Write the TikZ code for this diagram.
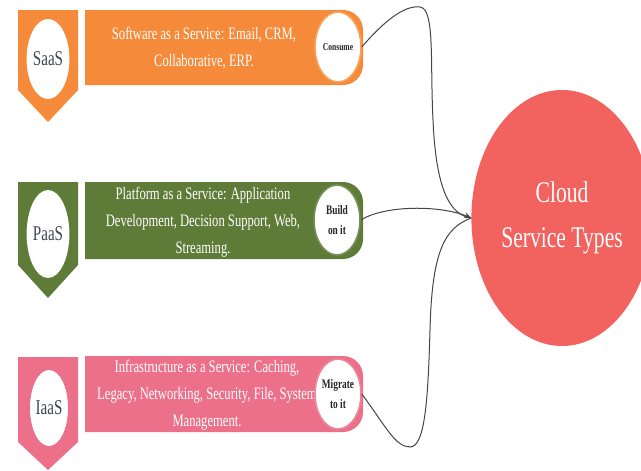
\documentclass[tikz,border=0pt]{standalone}
\usepackage{fontspec}
\setmainfont{Liberation Serif}[FakeStretch=0.72]
\usepackage{tikz}
\usetikzlibrary{shapes.geometric,arrows.meta}

\definecolor{saasc}{HTML}{F58A3A}
\definecolor{saasring}{HTML}{F7A35C}
\definecolor{paasc}{HTML}{5E7B38}
\definecolor{iaasc}{HTML}{EC7089}
\definecolor{cloudc}{HTML}{F2625F}
\definecolor{badgetxt}{HTML}{3F4656}
\definecolor{linkc}{HTML}{454545}

\tikzset{
  badge/.style={ellipse, fill=white, text=badgetxt, inner sep=0pt, font=\fontsize{21}{21}\selectfont},
  bartext/.style={text=white, align=center, inner sep=0pt, font=\fontsize{17.5}{27}\selectfont},
  act/.style={ellipse, fill=white, line width=1.6pt, minimum width=46pt, minimum height=70pt, inner sep=0pt, align=center, text=black!85},
  link/.style={draw=linkc, line width=1pt}
}

\begin{document}
\begin{tikzpicture}[x=1pt, y=-1pt]
\useasboundingbox (0,0) rectangle (641,471);

% SaaS
\fill[saasc] (18,10) -- (78,10) -- (78,90) -- (48,122) -- (18,90) -- cycle;
\node[badge, minimum width=38pt, minimum height=80pt] (saas) at (48,59) {SaaS};
\fill[saasc] (85,10) [rounded corners=20pt] -- (363,10) -- (363,85) [sharp corners] -- (85,85) -- cycle;
\node[bartext] (saastxt) at (204,48) {Software as a Service: Email, CRM,\\ Collaborative, ERP.};
\node[act, draw=saasring, font=\bfseries\fontsize{10.5}{10.5}\selectfont] (consume) at (338,47) {Consume};

% PaaS
\fill[paasc] (18,182) -- (78,182) -- (78,265) -- (48,298) -- (18,265) -- cycle;
\node[badge, minimum width=42pt, minimum height=88pt] (paas) at (48,234) {PaaS};
\fill[paasc] (85,182) [rounded corners=20pt] -- (363,182) -- (363,259) [sharp corners] -- (85,259) -- cycle;
\node[bartext] (paastxt) at (203,222) {Platform as a Service: Application\\ Development, Decision Support, Web,\\ Streaming.};
\node[act, draw=paasc!85!white, font=\bfseries\fontsize{13}{20}\selectfont] (build) at (337,220) {Build\\ on it};

% IaaS
\fill[iaasc] (18,357) -- (78,357) -- (78,442) -- (48,470) -- (18,442) -- cycle;
\node[badge, minimum width=36pt, minimum height=76pt] (iaas) at (49,408) {IaaS};
\fill[iaasc] (85,356) [rounded corners=20pt] -- (363,356) -- (363,432) [sharp corners] -- (85,432) -- cycle;
\node[bartext] (iaastxt) at (207,395) {Infrastructure as a Service: Caching,\\ Legacy, Networking, Security, File, System\\ Management.};
\node[act, draw=iaasc!85!white, font=\bfseries\fontsize{13}{20}\selectfont] (migrate) at (338,394) {Migrate\\ to it};

% target
\node[ellipse, fill=cloudc, text=white, minimum width=164pt, minimum height=256pt, align=center,
      font=\fontsize{30}{45}\selectfont] (cloud) at (562,218) {Cloud\\ Service Types};

% connectors
\draw[link] (consume.east) .. controls (385,20) and (405,5) .. (420,7)
  .. controls (435,9) and (430,60) .. (433,120)
  .. controls (436,190) and (450,215) .. (cloud.west);
\draw[link, -{Stealth[length=7pt, width=6pt]}] (build.east) .. controls (385,205) and (440,205) .. (cloud.west);
\draw[link] (migrate.east) .. controls (385,425) and (395,447) .. (410,447)
  .. controls (425,447) and (428,400) .. (430,330)
  .. controls (432,250) and (445,228) .. (cloud.west);
\end{tikzpicture}
\end{document}
